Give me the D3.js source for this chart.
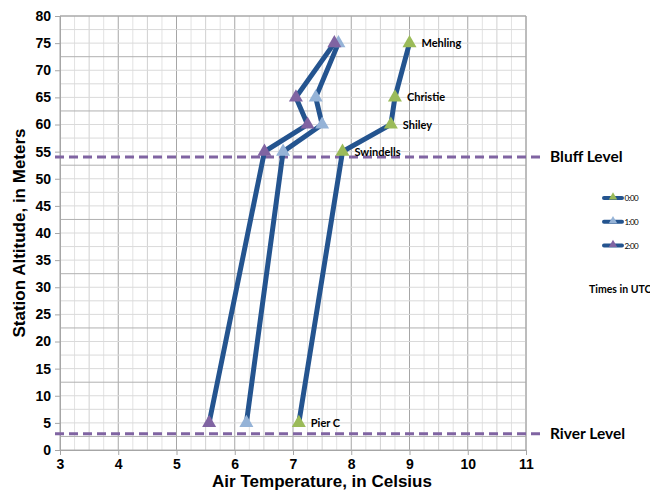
<!DOCTYPE html>
<html><head><meta charset="utf-8">
<script src="https://cdn.jsdelivr.net/npm/d3@7"></script>
<style>body{margin:0;background:#fff;}svg{display:block;}</style>
</head><body>
<svg id="c" width="650" height="491"></svg>
<script>
const altitudes = [5, 55, 60, 65, 75];
const stationNames = ["Pier C", "Swindells", "Shiley", "Christie", "Mehling"];
const seriesNames = ["0:00", "1:00", "2:00"];
const temps0000 = [7.10, 7.85, 8.68, 8.75, 9.00];
const temps0100 = [6.20, 6.83, 7.50, 7.39, 7.78];
const temps0200 = [5.56, 6.51, 7.25, 7.05, 7.71];
const seriesColors = ["#9BBB59", "#95B3D7", "#8064A2"];
const refLevels = [54, 3];
const refLabels = ["Bluff Level", "River Level"];
const xTicks = [3, 4, 5, 6, 7, 8, 9, 10, 11];
const yTicks = d3.range(0, 81, 5);

const series = [temps0000, temps0100, temps0200];
const svg = d3.select("#c");
const L = 60, R = 526, T = 16, B = 450;
const x = d3.scaleLinear().domain([3, 11]).range([L, R]);
const y = d3.scaleLinear().domain([0, 80]).range([B, T]);

// grid
const g = svg.append("g");
d3.range(3, 11.001, 0.25).forEach(v => {
  const major = Math.abs(v - Math.round(v)) < 1e-6;
  const half = Math.abs(v*2 - Math.round(v*2)) < 1e-6;
  g.append("line").attr("x1", x(v)).attr("x2", x(v)).attr("y1", T).attr("y2", B)
    .attr("stroke", major ? "#a6a6a6" : (half ? "#d0d0d0" : "#e2e2e2")).attr("stroke-width", 1);
});
d3.range(0, 80.001, 2.5).forEach(v => {
  const dark = Math.abs(((v - 2.5) % 10)) < 1e-6 || v === 80 || v === 0;
  g.append("line").attr("x1", L).attr("x2", R).attr("y1", y(v)).attr("y2", y(v))
    .attr("stroke", dark ? "#b0b0b0" : "#dadada").attr("stroke-width", 1);
});

// axes
const xAxis = d3.axisBottom(x).tickValues(xTicks).tickSize(5).tickPadding(4).tickFormat(d3.format("d"));
const yAxis = d3.axisLeft(y).tickValues(yTicks).tickSize(5).tickPadding(4).tickFormat(d3.format("d"));
const gx = svg.append("g").attr("transform", `translate(0,${B})`).call(xAxis);
const gy = svg.append("g").attr("transform", `translate(${L},0)`).call(yAxis);
[gx, gy].forEach(a => {
  a.select(".domain").attr("stroke", "#a6a6a6");
  a.selectAll(".tick line").attr("stroke", "#a6a6a6");
  a.selectAll("text").attr("font-family", "Liberation Sans, Arial, sans-serif")
    .attr("font-weight", "bold").attr("font-size", 14).attr("fill", "#000");
});
svg.append("line").attr("x1", L).attr("x2", R).attr("y1", T).attr("y2", T).attr("stroke", "#a6a6a6");
svg.append("line").attr("x1", R).attr("x2", R).attr("y1", T).attr("y2", B).attr("stroke", "#a6a6a6");

// axis titles
svg.append("text").attr("x", 322).attr("y", 487).attr("text-anchor", "middle")
  .attr("font-family", "Liberation Sans, Arial, sans-serif").attr("font-weight", "bold").attr("font-size", 17)
  .text("Air Temperature, in Celsius");
svg.append("text").attr("transform", "translate(25,233) rotate(-90)").attr("text-anchor", "middle")
  .attr("font-family", "Liberation Sans, Arial, sans-serif").attr("font-weight", "bold").attr("font-size", 17)
  .text("Station Altitude, in Meters");

// reference lines
refLevels.forEach((lv, i) => {
  svg.append("line").attr("x1", 55).attr("x2", 542).attr("y1", y(lv)).attr("y2", y(lv))
    .attr("stroke", "#8064A2").attr("stroke-width", 3).attr("stroke-dasharray", "9,5");
  svg.append("text").attr("x", 550).attr("y", y(lv) + 5).attr("font-family", "Lato, sans-serif")
    .attr("font-weight", "bold").attr("font-size", 15.5).text(refLabels[i]);
});

// series
const lineGen = d3.line().x(d => x(d[0])).y(d => y(d[1]));
const tri = d3.symbol().type(d3.symbolTriangle).size(85);
series.forEach((vals, si) => {
  const pts = vals.map((v, i) => [v, altitudes[i]]);
  svg.append("path").datum(pts).attr("d", lineGen).attr("fill", "none")
    .attr("stroke", "#24548F").attr("stroke-width", 5).attr("stroke-linejoin", "miter");
  svg.selectAll(null).data(pts).enter().append("path").attr("d", tri)
    .attr("transform", d => `translate(${x(d[0])},${y(d[1])})`).attr("fill", seriesColors[si]);
});

// station labels
temps0000.forEach((v, i) => {
  svg.append("text").attr("x", x(v) + 12).attr("y", y(altitudes[i]) + 4)
    .attr("font-family", "Lato, sans-serif").attr("font-weight", "bold").attr("font-size", 11)
    .text(stationNames[i]);
});

// legend
const tri2 = d3.symbol().type(d3.symbolTriangle).size(30);
seriesNames.forEach((n, i) => {
  const ly = 198 + i * 23.8;
  svg.append("line").attr("x1", 604).attr("x2", 622).attr("y1", ly).attr("y2", ly)
    .attr("stroke", "#24548F").attr("stroke-width", 4).attr("stroke-linecap", "round");
  svg.append("path").attr("d", tri2).attr("transform", `translate(613,${ly - 1})`).attr("fill", seriesColors[i]);
  svg.append("text").attr("x", 624.5).attr("y", ly + 3).attr("font-family", "Lato, sans-serif")
    .attr("font-size", 8).attr("letter-spacing", -0.6).text(n);
});
svg.append("text").attr("x", 589).attr("y", 293).attr("font-family", "Lato, sans-serif")
  .attr("font-weight", "bold").attr("font-size", 10.5).text("Times in UTC");
</script>
</body></html>
